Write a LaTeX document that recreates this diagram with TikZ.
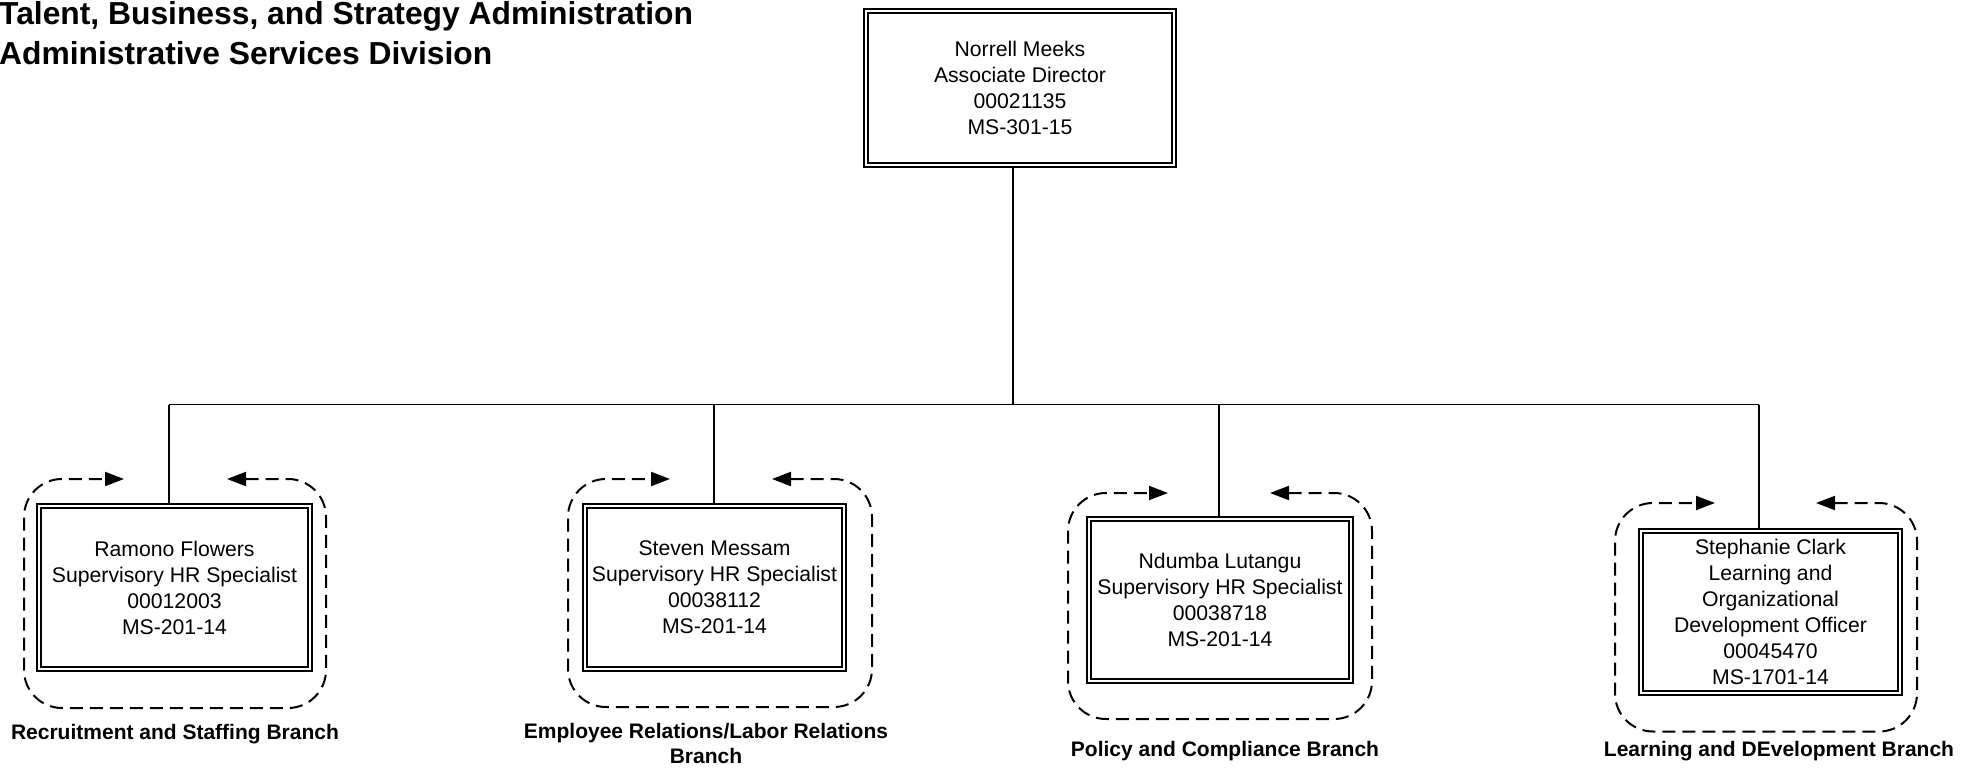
\documentclass[tikz,border=0pt]{standalone}
\usepackage{fontspec}
\setmainfont{Liberation Sans}
\usetikzlibrary{arrows.meta}
\begin{document}
\begin{tikzpicture}[x=1pt,y=-1pt,
  person/.style={draw, double, double distance=2pt, line width=2pt, inner sep=0pt, outer sep=3pt, align=center, font=\fontsize{21.2}{26}\selectfont},
  link/.style={line width=1.8pt},
  branchframe/.style={line width=2pt, dash pattern=on 13pt off 7pt, rounded corners=38pt, {Triangle[length=19pt,width=14pt]}-{Triangle[length=19pt,width=14pt]}},
  branchlabel/.style={font=\fontsize{21}{25}\selectfont\bfseries, align=center, inner sep=0pt},
  titletext/.style={font=\fontsize{31.8}{40}\selectfont\bfseries, inner sep=0pt, anchor=base west}]
\useasboundingbox (0,0) rectangle (1976,770);

% title
\node[titletext] (title1) at (-1,25) {Talent, Business, and Strategy Administration};
\node[titletext] (title2) at (-1,65) {Administrative Services Division};

% people
\node[person, minimum width=308pt, minimum height=154pt] (top) at (1020,88) {Norrell Meeks\\Associate Director\\00021135\\MS-301-15};
\node[person, minimum width=271pt, minimum height=163pt] (c1) at (174.5,587.5) {Ramono Flowers\\Supervisory HR Specialist\\00012003\\MS-201-14};
\node[person, minimum width=259pt, minimum height=163pt] (c2) at (714.5,587.5) {Steven Messam\\Supervisory HR Specialist\\00038112\\MS-201-14};
\node[person, minimum width=262pt, minimum height=162pt] (c3) at (1220,600) {Ndumba Lutangu\\Supervisory HR Specialist\\00038718\\MS-201-14};
\node[person, minimum width=259pt, minimum height=162pt] (c4) at (1770.5,612) {Stephanie Clark\\Learning and\\Organizational\\Development Officer\\00045470\\MS-1701-14};

% connectors
\coordinate (j0) at (1013,404.5);
\coordinate (j1) at (169,404.5);
\coordinate (j2) at (714,404.5);
\coordinate (j3) at (1219,404.5);
\coordinate (j4) at (1759,404.5);
\draw[link] (top.south -| j0) -- (j0);
\draw[link] (j1) -- (j4);
\draw[link] (j1) -- (j1 |- c1.north);
\draw[link] (j2) -- (j2 |- c2.north);
\draw[link] (j3) -- (j3 |- c3.north);
\draw[link] (j4) -- (j4 |- c4.north);

% branch frames
\draw[branchframe] (227,479) -| (326,708) -| (24,479) -- (124,479);
\draw[branchframe] (772,479) -| (872,707) -| (568,479) -- (670,479);
\draw[branchframe] (1270,493) -| (1372,719) -| (1068,493) -- (1168,493);
\draw[branchframe] (1816,503) -| (1917,731.5) -| (1615,503) -- (1715,503);

% branch labels
\node[branchlabel, anchor=base] (l1) at (175,739) {Recruitment and Staffing Branch};
\node[branchlabel] (l2) at (706,743.5) {Employee Relations/Labor Relations\\Branch};
\node[branchlabel, anchor=base] (l3) at (1225,756) {Policy and Compliance Branch};
\node[branchlabel, anchor=base] (l4) at (1779,756) {Learning and DEvelopment Branch};
\end{tikzpicture}
\end{document}
